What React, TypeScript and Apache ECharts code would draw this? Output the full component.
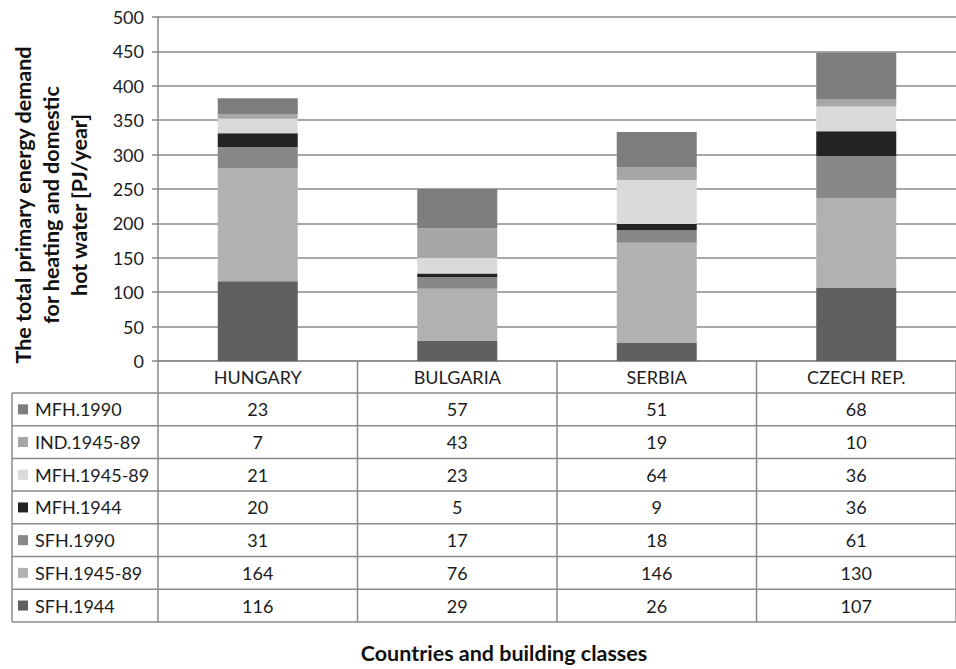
import React, { useEffect, useRef } from "react";
import * as echarts from "echarts";

const categories = ["HUNGARY", "BULGARIA", "SERBIA", "CZECH REP."];
// table order (top to bottom)
const seriesNames = ["MFH.1990", "IND.1945-89", "MFH.1945-89", "MFH.1944", "SFH.1990", "SFH.1945-89", "SFH.1944"];
const mfh1990 = [23, 57, 51, 68];
const ind194589 = [7, 43, 19, 10];
const mfh194589 = [21, 23, 64, 36];
const mfh1944 = [20, 5, 9, 36];
const sfh1990 = [31, 17, 18, 61];
const sfh194589 = [164, 76, 146, 130];
const sfh1944 = [116, 29, 26, 107];
const seriesValues = [mfh1990, ind194589, mfh194589, mfh1944, sfh1990, sfh194589, sfh1944];
const seriesColors = ["#7d7d7d", "#a6a6a6", "#dadada", "#232323", "#888888", "#b1b1b1", "#606060"];
const yTicks = { min: 0, max: 500, interval: 50 };

const FONT = "Lato, 'Open Sans', sans-serif";
const TEXT = "#1c1c1c";
const LINE = "#8a8a8a";

export default function App() {
  const ref = useRef<HTMLDivElement>(null);
  useEffect(() => {
    if (!ref.current) return;
    const chart = echarts.init(ref.current, null, { renderer: "svg" });
    const order = [6, 5, 4, 3, 2, 1, 0]; // stack bottom to top
    const base: any = {
      animation: false,
      grid: { left: 158, top: 17, width: 806, bottom: 308, containLabel: false },
      xAxis: {
        type: "category",
        data: categories,
        axisLine: { show: true, lineStyle: { color: LINE, width: 1.5 } },
        axisTick: { show: false },
        axisLabel: { show: false },
      },
      yAxis: {
        type: "value",
        min: yTicks.min,
        max: yTicks.max,
        interval: yTicks.interval,
        axisLine: { show: true, lineStyle: { color: LINE, width: 1.5 } },
        axisTick: { show: true, length: 6, lineStyle: { color: LINE, width: 1.5 } },
        axisLabel: { color: TEXT, fontSize: 18, fontFamily: FONT, margin: 14 },
        splitLine: { show: true, lineStyle: { color: LINE, width: 1.5 } },
      },
      series: order.map((i) => ({
        name: seriesNames[i],
        type: "bar",
        stack: "total",
        barWidth: 80,
        data: seriesValues[i],
        itemStyle: { color: seriesColors[i] },
      })),
    };
    chart.setOption(base);

    const centers = categories.map((c) => chart.convertToPixel({ xAxisIndex: 0 }, c) as number);
    const y0 = chart.convertToPixel({ yAxisIndex: 0 }, 0) as number;
    const colW = centers.length > 1 ? centers[1] - centers[0] : 200;
    const plotLeft = centers[0] - colW / 2;
    const plotRight = centers[centers.length - 1] + colW / 2;
    const headerH = 32;
    const rowH = 32.7;
    const tableLeft = 12;
    const tableTop = y0 + headerH;
    const tableBottom = tableTop + rowH * seriesNames.length;

    const g: any[] = [];
    const line = (x1: number, y1: number, x2: number, y2: number) =>
      g.push({ type: "line", shape: { x1, y1, x2, y2 }, style: { stroke: LINE, lineWidth: 1.5 }, z: 10 });

    line(tableLeft, tableTop, tableLeft, tableBottom);
    for (let k = 0; k <= categories.length; k++) {
      const x = plotLeft + k * colW;
      line(x, y0, x, tableBottom);
    }
    for (let r = 0; r <= seriesNames.length; r++) {
      const y = tableTop + r * rowH;
      line(tableLeft, y, plotRight, y);
    }
    categories.forEach((c, k) => {
      g.push({
        type: "text",
        x: centers[k],
        y: y0 + headerH / 2,
        style: { text: c, fill: TEXT, fontSize: 18, fontFamily: FONT, align: "center", verticalAlign: "middle" },
      });
    });
    seriesNames.forEach((name, r) => {
      const cy = tableTop + r * rowH + rowH / 2;
      g.push({ type: "rect", shape: { x: 18, y: cy - 5, width: 10, height: 10 }, style: { fill: seriesColors[r] } });
      g.push({
        type: "text",
        x: 35,
        y: cy,
        style: { text: name, fill: TEXT, fontSize: 18, fontFamily: FONT, align: "left", verticalAlign: "middle" },
      });
      seriesValues[r].forEach((v, k) => {
        g.push({
          type: "text",
          x: centers[k],
          y: cy,
          style: { text: String(v), fill: TEXT, fontSize: 18, fontFamily: FONT, align: "center", verticalAlign: "middle" },
        });
      });
    });
    g.push({
      type: "text",
      x: 51,
      y: 205,
      rotation: Math.PI / 2,
      style: {
        text: "The total primary energy demand\nfor heating and domestic\nhot water [PJ/year]",
        fill: "#111",
        fontSize: 21.5,
        fontWeight: "bold",
        fontFamily: FONT,
        align: "center",
        verticalAlign: "middle",
        lineHeight: 28,
      },
    });
    g.push({
      type: "text",
      x: 504,
      y: 653,
      style: {
        text: "Countries and building classes",
        fill: "#111",
        fontSize: 21.5,
        fontWeight: "bold",
        fontFamily: FONT,
        align: "center",
        verticalAlign: "middle",
      },
    });

    chart.setOption({ graphic: g });
    return () => chart.dispose();
  }, []);
  return <div ref={ref} style={{ position: "fixed", left: 0, top: 0, width: 956, height: 669, background: "#fff" }} />;
}
